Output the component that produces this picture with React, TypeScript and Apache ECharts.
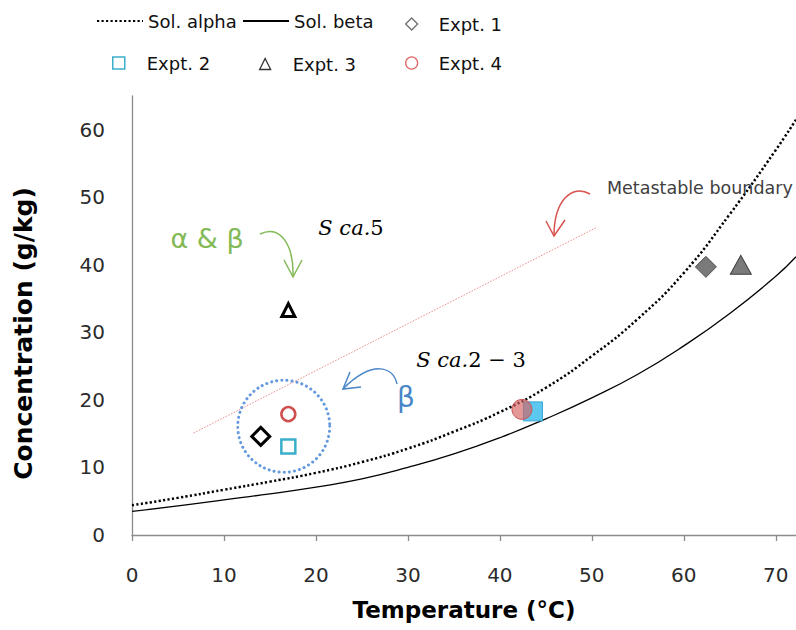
import React, { useEffect, useRef } from "react";
import * as echarts from "echarts";

// Temperature grid for the solubility curves (°C)
const solTemps = [0, 5, 10, 15, 20, 25, 30, 35, 40, 45, 50, 55, 60, 65, 70, 72.2];
// Solubility curves (g/kg)
const solAlpha = [4.4, 5.5, 6.7, 7.9, 9.2, 10.8, 12.8, 15.3, 18.2, 21.8, 26.5, 32.0, 38.8, 47.5, 57.0, 61.5];
const solBeta = [3.5, 4.3, 5.2, 6.1, 7.1, 8.3, 10.0, 12.0, 14.4, 17.2, 20.3, 23.8, 28.0, 32.8, 38.3, 41.2];

// Experiments: [temperature, concentration]; first point hollow, second point filled
const expt1 = [[14.0, 14.6], [62.4, 39.7]];
const expt2 = [[17.0, 13.1], [43.6, 18.3]];
const expt3 = [[17.0, 33.3], [66.2, 40.0]];
const expt4 = [[17.0, 17.9], [42.4, 18.6]];

// Metastable boundary (dotted red line) end points
const metastable = [[6.7, 15.1], [50.6, 45.6]];
// Centre of the blue dotted circle round the β points
const betaGroupCentre = [[16.5, 16.1]];

const xTicks = [0, 10, 20, 30, 40, 50, 60, 70];
const yTicks = [0, 10, 20, 30, 40, 50, 60];

const FONT = "DejaVu Sans";

export default function App() {
  const ref = useRef<HTMLDivElement>(null);
  useEffect(() => {
    if (!ref.current) return;
    const chart = echarts.init(ref.current, null, { renderer: "svg" });

    const hollow = (color: string, bw: number) => ({ color: "#ffffff", borderColor: color, borderWidth: bw, opacity: 1 });

    const legendText = { fontFamily: FONT, fontSize: 18, color: "#111111" };
    const mkLegend = (name: string, left: number, top: number, w: number, h: number, pad: number, extra: any = {}) => ({
      show: true,
      left,
      top,
      orient: "horizontal",
      itemWidth: w,
      itemHeight: h,
      padding: 0,
      selectedMode: false,
      textStyle: { ...legendText, padding: [0, 0, 0, pad] },
      data: [{ name, ...extra }],
    });

    const option: any = {
      animation: false,
      backgroundColor: "#ffffff",
      grid: { left: 132, right: 0, top: 96, bottom: 95, containLabel: false },
      legend: [
        mkLegend("Sol. alpha", 96, 12, 46, 1, 0),
        mkLegend("Sol. beta", 242, 12, 46, 1, 0),
        mkLegend("Expt. 1", 405, 15, 12, 12, 16, { icon: "diamond", itemStyle: { color: "#ffffff", borderColor: "#6e6e6e", borderWidth: 1.3 } }),
        mkLegend("Expt. 2", 112, 54, 12, 12, 17, { icon: "rect", itemStyle: { color: "#ffffff", borderColor: "#3aaecb", borderWidth: 1.5 } }),
        mkLegend("Expt. 3", 259, 55, 11, 11, 17, { icon: "triangle", itemStyle: { color: "#ffffff", borderColor: "#333333", borderWidth: 1.3 } }),
        mkLegend("Expt. 4", 405, 54, 12, 12, 16, { icon: "circle", itemStyle: { color: "#ffffff", borderColor: "#e06666", borderWidth: 1.3 } }),
      ],
      xAxis: {
        type: "value",
        min: 0,
        max: 72.2,
        interval: 10,
        name: "Temperature (°C)",
        nameLocation: "middle",
        nameGap: 63,
        nameTextStyle: { fontFamily: FONT, fontSize: 23, fontWeight: "bold", color: "#000000" },
        axisLine: { show: true, onZero: false, lineStyle: { color: "#8c8c8c", width: 1.3 } },
        axisTick: { show: true, inside: false, length: 6, customValues: xTicks, lineStyle: { color: "#8c8c8c", width: 1.3 } },
        axisLabel: { customValues: xTicks, margin: 30, fontFamily: FONT, fontSize: 20, color: "#2b2b2b" },
        splitLine: { show: false },
      },
      yAxis: {
        type: "value",
        min: 0,
        max: 65,
        interval: 10,
        name: "Concentration (g/kg)",
        nameLocation: "middle",
        nameGap: 96,
        nameTextStyle: { fontFamily: FONT, fontSize: 25, fontWeight: "bold", color: "#000000", padding: [0, 36, 0, 0] },
        axisLine: { show: true, onZero: false, lineStyle: { color: "#8c8c8c", width: 1.3 } },
        axisTick: { show: false },
        axisLabel: { customValues: yTicks, margin: 27, fontFamily: FONT, fontSize: 20, color: "#2b2b2b" },
        splitLine: { show: false },
      },
      series: [
        {
          name: "Sol. alpha",
          type: "line",
          smooth: true,
          symbol: "none",
          data: solTemps.map((t, i) => [t, solAlpha[i]]),
          lineStyle: { color: "#000000", width: 2.5, type: [2.2, 2.3], cap: "butt" },
          itemStyle: { color: "#000000" },
          z: 3,
        },
        {
          name: "Sol. beta",
          type: "line",
          smooth: true,
          symbol: "none",
          data: solTemps.map((t, i) => [t, solBeta[i]]),
          lineStyle: { color: "#000000", width: 1.3, type: "solid" },
          itemStyle: { color: "#000000" },
          z: 3,
        },
        {
          name: "Metastable boundary",
          type: "line",
          symbol: "none",
          data: metastable,
          lineStyle: { color: "#ef8a8a", width: 1, type: [1.5, 1.5] },
          itemStyle: { color: "#ef8a8a" },
          z: 2,
        },
        {
          name: "β region",
          type: "scatter",
          symbol: "circle",
          symbolSize: 92,
          data: betaGroupCentre,
          itemStyle: { color: "rgba(0,0,0,0)", borderColor: "#3d80d4", borderWidth: 3, borderType: [0.1, 5], borderCap: "round" },
          silent: true,
          z: 2,
        },
        {
          name: "Expt. 1",
          type: "scatter",
          symbol: "diamond",
          symbolSize: 18,
          itemStyle: hollow("#000000", 3),
          data: [
            { value: expt1[0] },
            { value: expt1[1], symbolSize: 21, itemStyle: { color: "#7a7a7a", borderColor: "#4d4d4d", borderWidth: 1 } },
          ],
          z: 5,
        },
        {
          name: "Expt. 2",
          type: "scatter",
          symbol: "rect",
          symbolSize: 14,
          itemStyle: hollow("#3aaecb", 2.5),
          data: [
            { value: expt2[0] },
            { value: expt2[1], symbolSize: 19, itemStyle: { color: "#5cc8ef", borderColor: "#3aa6d4", borderWidth: 1 } },
          ],
          z: 5,
        },
        {
          name: "Expt. 3",
          type: "scatter",
          symbol: "triangle",
          symbolSize: 13,
          itemStyle: hollow("#000000", 3),
          data: [
            { value: expt3[0] },
            { value: expt3[1], symbolSize: [21, 19], itemStyle: { color: "#7a7a7a", borderColor: "#404040", borderWidth: 1 } },
          ],
          z: 5,
        },
        {
          name: "Expt. 4",
          type: "scatter",
          symbol: "circle",
          symbolSize: 14,
          itemStyle: hollow("#d0504f", 2.5),
          data: [
            { value: expt4[0] },
            { value: expt4[1], symbolSize: 20, itemStyle: { color: "rgba(215,95,95,0.65)", borderColor: "#c65555", borderWidth: 1 } },
          ],
          z: 6,
        },
      ],
      graphic: [
        // α & β label and green arrow
        {
          type: "text",
          x: 207,
          y: 238,
          style: { text: "α & β", fontFamily: FONT, fontSize: 27, fill: "#84b957", align: "center", verticalAlign: "middle" },
          z: 10,
        },
        {
          type: "bezierCurve",
          shape: { x1: 260, y1: 234, cpx1: 281, cpy1: 224, cpx2: 294, cpy2: 246, x2: 293, y2: 277 },
          style: { stroke: "#84b957", lineWidth: 1.5, fill: null },
          z: 10,
        },
        {
          type: "polyline",
          shape: { points: [[284, 260], [293, 277], [302, 260]] },
          style: { stroke: "#84b957", lineWidth: 1.5, fill: null },
          z: 10,
        },
        // S ca.5
        {
          type: "text",
          x: 351,
          y: 228,
          style: {
            text: "{i|S ca.}{n|5}",
            align: "center",
            verticalAlign: "middle",
            rich: {
              i: { fontFamily: "DejaVu Serif", fontStyle: "italic", fontSize: 21, fill: "#000000" },
              n: { fontFamily: "DejaVu Serif", fontSize: 21, fill: "#000000" },
            },
          },
          z: 10,
        },
        // S ca.2 − 3
        {
          type: "text",
          x: 471,
          y: 360,
          style: {
            text: "{i|S ca.}{n|2 − 3}",
            align: "center",
            verticalAlign: "middle",
            rich: {
              i: { fontFamily: "DejaVu Serif", fontStyle: "italic", fontSize: 21, fill: "#000000" },
              n: { fontFamily: "DejaVu Serif", fontSize: 21, fill: "#000000" },
            },
          },
          z: 10,
        },
        // β label and blue arrow
        {
          type: "text",
          x: 406,
          y: 397,
          style: { text: "β", fontFamily: FONT, fontSize: 28, fill: "#4a86c8", align: "center", verticalAlign: "middle" },
          z: 10,
        },
        {
          type: "bezierCurve",
          shape: { x1: 397, y1: 384, cpx1: 393, cpy1: 366, cpx2: 372, cpy2: 360, x2: 343, y2: 389 },
          style: { stroke: "#4a86c8", lineWidth: 1.5, fill: null },
          z: 10,
        },
        {
          type: "polyline",
          shape: { points: [[350, 372], [343, 389], [361, 387]] },
          style: { stroke: "#4a86c8", lineWidth: 1.5, fill: null },
          z: 10,
        },
        // Metastable boundary label and red arrow
        {
          type: "text",
          x: 607,
          y: 188,
          style: { text: "Metastable boundary", fontFamily: FONT, fontSize: 17.5, fill: "#404040", align: "left", verticalAlign: "middle" },
          z: 10,
        },
        {
          type: "bezierCurve",
          shape: { x1: 590, y1: 194, cpx1: 572, cpy1: 184, cpx2: 554, cpy2: 200, x2: 554, y2: 236 },
          style: { stroke: "#d9534f", lineWidth: 1.5, fill: null },
          z: 10,
        },
        {
          type: "polyline",
          shape: { points: [[546, 221], [554, 236], [565, 220]] },
          style: { stroke: "#d9534f", lineWidth: 1.5, fill: null },
          z: 10,
        },
      ],
    };

    chart.setOption(option);
    return () => chart.dispose();
  }, []);

  return <div ref={ref} style={{ width: 796, height: 630, position: "absolute", left: 0, top: 0, background: "#fff" }} />;
}
